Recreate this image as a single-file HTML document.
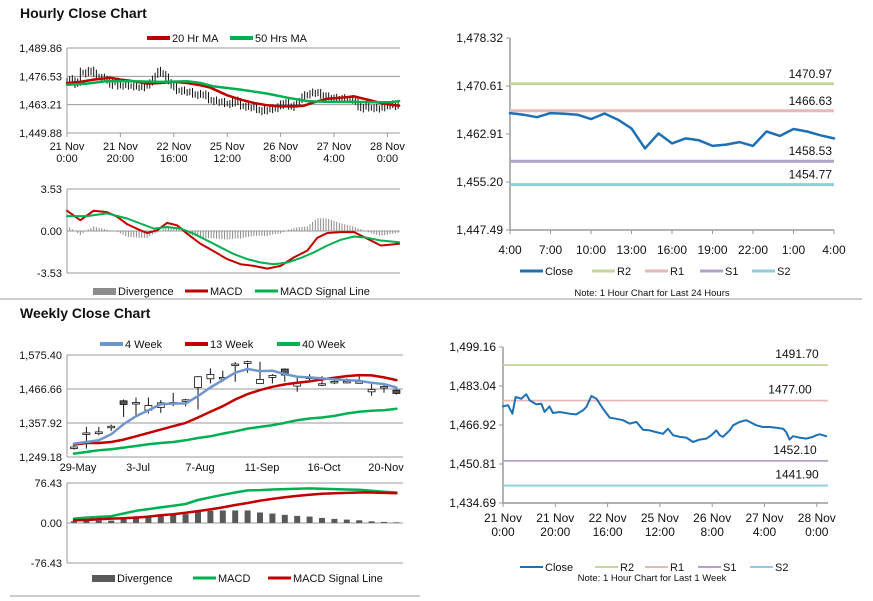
<!DOCTYPE html>
<html><head><meta charset="utf-8"><style>
html,body{margin:0;padding:0;background:#fff;}
svg{display:block;font-family:"Liberation Sans",Arial,sans-serif;}
</style></head><body>
<svg id="s" width="873" height="601" viewBox="0 0 873 601" xmlns="http://www.w3.org/2000/svg">
<text x="20" y="18" font-size="14" font-weight="bold" fill="#111">Hourly Close Chart</text>
<text x="20" y="318" font-size="14" font-weight="bold" fill="#111">Weekly Close Chart</text>
<line x1="0" y1="299" x2="862" y2="299" stroke="#999" stroke-width="1"/>
<line x1="10" y1="596" x2="420" y2="596" stroke="#999" stroke-width="1"/>
<g id="g"></g>
</svg>
<script>
// ---------- DATA ----------
const hrHours=[0,1.9,3.6,4.8,7,8.9,10.2,12.7,14.7,15.9,17.8,19.1,21.7,25.5,28,30.6,31.9,33.8,35.7,38.2,40.8,43.3,45.9,48.4,51,53.5,56.1,58.6,61.2,63.1,65,67.6,70.1,72.7,75.2,77.8,79.7,81.6,82.9,84.1,86.7,88,90.5,93,94.3,96.9,99.4,102,104.5,107.1,108.3,109.6,110.9,113.4,116,118.5,119.8,121.1,123.6];
const hrClose=[1474.6,1475.1,1471.6,1478.5,1477.8,1479.6,1477.1,1475.5,1475.7,1472.3,1474.6,1471.9,1472.3,1471.6,1471.3,1473.0,1474.4,1478.9,1477.8,1473.7,1470.0,1469.5,1468.9,1467.5,1468.2,1465.0,1464.7,1464.0,1463.3,1465.4,1462.7,1462.0,1461.7,1459.9,1460.9,1461.3,1462.7,1464.7,1462.7,1462.0,1464.7,1466.8,1468.2,1468.9,1468.2,1466.8,1466.1,1466.1,1465.8,1465.4,1464.0,1460.9,1462.3,1461.7,1461.3,1462.0,1462.7,1463.1,1462.3];
const ma20Hours=[0,5,10,16.25,20,25,30,35,40,45,50,53.75,60,65,70,75,80,85,88.75,92.5,97.5,102.5,107.5,112.5,117.5,121.25,124.4];
const ma20=[1473.4,1473.9,1475.0,1475.9,1475.0,1474.2,1473.1,1473.4,1474.0,1473.4,1472.3,1471.2,1467.6,1465.6,1464.0,1462.9,1462.4,1462.4,1462.7,1464.3,1466.0,1466.5,1467.1,1465.6,1464.0,1463.2,1462.7];
const ma50Hours=[0,7.5,15,25,35,45,50,55,65,75,82.5,90,97.5,107.5,115,121.25,124.4];
const ma50=[1472.6,1473.1,1474.3,1474.2,1473.9,1474.2,1473.4,1471.8,1470.3,1468.4,1466.5,1464.9,1464.5,1464.5,1464.3,1464.3,1464.9];
const macdHours=[0,5,10,15,18.75,22.5,27.5,30,33.75,37.5,41.25,45,50,55,60,65,70,75,80,85,90,93.75,97.5,102.5,107.5,112.5,117.5,121.25,124.4];
const macdH=[1.71,0.91,1.71,1.59,1.20,0.57,0.06,-0.17,0.06,0.68,0.48,-0.23,-1.08,-1.71,-2.36,-2.79,-2.93,-3.16,-2.93,-2.22,-1.65,-0.57,-0.17,-0.09,-0.09,-0.65,-1.22,-1.14,-1.08];
const sigHours=[0,7.5,15,22.5,27.5,32.5,37.5,42.5,47.5,52.5,57.5,62.5,67.5,72.5,77.5,82.5,87.5,92.5,97.5,102.5,107.5,112.5,117.5,124.4];
const sigH=[1.25,1.25,1.48,1.05,0.63,0.20,0.34,0.20,-0.23,-0.80,-1.37,-1.94,-2.36,-2.65,-2.79,-2.65,-2.28,-1.79,-1.22,-0.74,-0.46,-0.57,-0.80,-0.94];
const hrTickLabels=[["21 Nov","0:00"],["21 Nov","20:00"],["22 Nov","16:00"],["25 Nov","12:00"],["26 Nov","8:00"],["27 Nov","4:00"],["28 Nov","0:00"]];
const tlTicks=["1,489.86","1,476.53","1,463.21","1,449.88"];
const tlTickVals=[1489.86,1476.53,1463.21,1449.88];
const macdTicks=["3.53","0.00","-3.53"];
const macdTickVals=[3.53,0,-3.53];
// 24h chart
const dayLabels=["4:00","7:00","10:00","13:00","16:00","19:00","22:00","1:00","4:00"];
const dayClose=[1466.26,1466.0,1465.6,1466.26,1466.15,1466.0,1465.3,1466.2,1465.2,1463.8,1460.6,1463.0,1461.4,1462.2,1461.9,1461.0,1461.2,1461.6,1461.0,1463.3,1462.6,1463.7,1463.3,1462.7,1462.2];
const dayTickVals=[1478.32,1470.61,1462.91,1455.20,1447.49];
const dayTicks=["1,478.32","1,470.61","1,462.91","1,455.20","1,447.49"];
const dayLevels=[1470.97,1466.63,1458.53,1454.77];
const levelNames=["R2","R1","S1","S2"];
// weekly
const wkOpen=[1277.0,1324.0,1324.0,1343.3,1428.9,1421.4,1398.9,1407.5,1421.4,1429.9,1471.6,1499.4,1501.6,1544.4,1548.6,1484.5,1503.7,1530.5,1475.9,1502.7,1481.3,1488.7,1488.7,1487.7,1457.7,1472.7,1463.1];
const wkClose=[1281.3,1326.2,1329.4,1347.6,1417.1,1423.5,1413.9,1422.4,1423.5,1432.1,1505.9,1513.3,1503.7,1546.5,1554.0,1497.3,1510.2,1511.2,1486.6,1504.8,1483.4,1490.9,1490.9,1489.8,1465.2,1474.8,1452.4];
const wkHigh=[1283.4,1345.4,1345.4,1352.9,1433.1,1439.5,1439.5,1431.0,1454.5,1435.3,1508.0,1532.6,1525.1,1552.9,1557.2,1554.0,1514.4,1532.6,1508.0,1514.4,1508.0,1497.3,1500.5,1514.4,1482.3,1479.1,1465.2];
const wkLow=[1272.7,1275.9,1318.7,1332.6,1377.5,1382.9,1388.2,1390.3,1411.7,1411.7,1401.1,1484.5,1489.8,1489.8,1518.7,1484.5,1484.5,1489.8,1457.7,1489.8,1475.9,1482.3,1484.5,1484.5,1444.9,1454.5,1449.2];
const ma4w=[1291.9,1297.3,1302.6,1321.9,1354.0,1379.7,1398.9,1418.2,1420.3,1420.3,1443.8,1471.6,1495.2,1518.7,1530.5,1524.0,1525.1,1514.4,1505.9,1503.7,1500.5,1497.3,1495.2,1493.0,1486.6,1482.3,1471.6];
const ma13w=[1288.7,1294.1,1294.1,1297.3,1304.8,1315.5,1326.2,1336.9,1347.6,1358.3,1375.4,1393.6,1411.7,1433.1,1450.3,1463.1,1473.8,1481.3,1486.6,1490.9,1497.3,1502.7,1508.0,1511.2,1510.2,1503.7,1495.2];
const ma40w=[1259.9,1265.2,1270.6,1273.8,1279.1,1284.5,1289.8,1294.1,1297.3,1302.6,1310.1,1315.5,1324.0,1331.5,1340.1,1345.4,1350.8,1358.3,1366.8,1372.2,1375.4,1380.7,1388.2,1393.6,1396.8,1398.9,1403.2];
const wkMacd=[8.4,10.4,11.7,13.0,18.1,23.3,26.6,29.8,33.0,36.3,44.0,49.2,53.8,58.3,62.2,62.8,64.1,64.8,65.4,66.1,65.4,64.8,64.1,63.5,61.5,59.6,58.3];
const wkSignal=[5.2,5.8,7.1,8.4,9.1,10.4,12.3,14.9,16.8,19.4,22.7,25.9,29.8,34.3,38.2,42.7,46.0,49.2,51.8,53.8,55.7,57.0,57.6,58.3,58.3,57.6,57.0];
const wkLabels=["29-May","3-Jul","7-Aug","11-Sep","16-Oct","20-Nov"];
const wkTicks=["1,575.40","1,466.66","1,357.92","1,249.18"];
const wkTickVals=[1575.40,1466.66,1357.92,1249.18];
const wkMacdTicks=["76.43","0.00","-76.43"];
const wkMacdTickVals=[76.43,0,-76.43];
// week (hourly) chart
const weekTicks=["1,499.16","1,483.04","1,466.92","1,450.81","1,434.69"];
const weekTickVals=[1499.16,1483.04,1466.92,1450.81,1434.69];
const weekLevels=[1491.70,1477.00,1452.10,1441.90];

// ---------- SCALES ----------
const xH=h=>67+h*2.67;
const yTL=p=>48+(1489.86-p)*(85/39.98);
const yTM=v=>231-v*(42/3.53);
const xD=i=>510+i*13.5;
const yD=p=>38+(1478.32-p)*(192/30.83);
const xW=i=>74+i*12.4;
const yW=p=>355+(1575.40-p)*(102/326.22);
const yWM=v=>523-v*(40/76.43);
const xB=h=>503+h*2.615;
const yB=p=>347+(1499.16-p)*(156/64.47);

const NS="http://www.w3.org/2000/svg";
const G=document.getElementById('g');
function el(tag,attrs,parent){const e=document.createElementNS(NS,tag);for(const k in attrs)e.setAttribute(k,attrs[k]);(parent||G).appendChild(e);return e;}
function txt(x,y,s,anchor,size,name){const t=el('text',{x:x,y:y,'font-size':size||11,'text-anchor':anchor||'start',fill:'#111'});t.textContent=s;


return t;}
function poly(xs,ys,color,w,name){const pts=xs.map((x,i)=>x.toFixed(1)+','+ys[i].toFixed(1)).join(' ');const p=el('polyline',{points:pts,fill:'none',stroke:color,'stroke-width':w,'stroke-linejoin':'round','stroke-linecap':'round'});


return p;}
function ln(x1,y1,x2,y2,color,w,name){const l=el('line',{x1:x1,y1:y1,x2:x2,y2:y2,stroke:color,'stroke-width':w||1});


return l;}
function legendLine(x,y,color,label,w,name){ln(x,y,x+23,y,color,w||3,name+'-swatch');txt(x+25,y+4,label,'start',11,name+'-label');}
function legendBox(x,y,label,color,name){const r=el('rect',{x:x,y:y-3,width:23,height:7,fill:color});


txt(x+25,y+4,label,'start',11,name+'-label');}
function interp(hs,vs,h){if(h<=hs[0])return vs[0];for(let i=1;i<hs.length;i++){if(h<=hs[i]){const t=(h-hs[i-1])/(hs[i]-hs[i-1]);return vs[i-1]+t*(vs[i]-vs[i-1]);}}return vs[vs.length-1];}
const GRID="#9a9a9a";

// ---------- HOURLY PRICE (top-left) ----------
legendLine(147,38,'#c00000','20 Hr MA',4,'legend-20hr-ma');
legendLine(230,38,'#00b050','50 Hrs MA',4,'legend-50hr-ma');
tlTickVals.forEach((v,i)=>{ln(67,yTL(v),400,yTL(v),GRID,1,'tl-gridline');txt(62,yTL(v)+4,tlTicks[i],'end',11,'tl-y-tick');});
ln(67,48,67,133,GRID,1,'tl-y-axis');
hrTickLabels.forEach((l,i)=>{const x=xH(i*20);ln(x,133,x,137,GRID,1,'tl-x-tick');txt(x,150,l[0],'middle',11,'tl-x-label');txt(x,162,l[1],'middle',11,'tl-x-label');});
for(let h=0;h<=124;h++){const c=interp(hrHours,hrClose,h),p=interp(hrHours,hrClose,h-1);const hi=Math.max(c,p)+1.2+(h%3)*0.5,lo=Math.min(c,p)-1.2-(h%2)*0.6;
ln(xH(h),yTL(hi),xH(h),yTL(lo),'#111',1,'hourly-candle');}
poly(ma20Hours.map(xH),ma20.map(yTL),'#c00000',2.5,'ma20-line');
poly(ma50Hours.map(xH),ma50.map(yTL),'#00b050',2.5,'ma50-line');

// ---------- HOURLY MACD ----------
macdTickVals.forEach((v,i)=>{ln(67,yTM(v),400,yTM(v),GRID,1,'tm-gridline');txt(62,yTM(v)+4,macdTicks[i],'end',11,'tm-y-tick');});
ln(67,189,67,273,GRID,1,'tm-y-axis');
for(let h=0;h<=124;h++){const d=interp(macdHours,macdH,h)-interp(sigHours,sigH,h);ln(xH(h),yTM(0),xH(h),yTM(d),'#8c8c8c',1,'divergence-bar');}
poly(macdHours.map(xH),macdH.map(yTM),'#c00000',2,'macd-line');
poly(sigHours.map(xH),sigH.map(yTM),'#00b050',2,'signal-line');
legendBox(93,291,'Divergence','#8c8c8c','legend-divergence');
legendLine(185,291,'#c00000','MACD',3,'legend-macd');
legendLine(255,291,'#00b050','MACD Signal Line',3,'legend-signal');

// ---------- 24 HOUR CHART (top-right) ----------
const lvlColors=['#c3d69b','#e6b9b8','#b3a2c7','#93cddd'];
dayTickVals.forEach((v,i)=>{ln(506,yD(v),510,yD(v),GRID,1,'tr-y-tick-mark');txt(503,yD(v)+4,dayTicks[i],'end',12,'tr-y-tick');});
ln(510,38,510,230,GRID,1.5,'tr-y-axis');ln(510,230,834,230,GRID,1.5,'tr-x-axis');
dayLabels.forEach((l,i)=>{const x=xD(i*3);ln(x,230,x,234,GRID,1,'tr-x-tick');txt(x,254,l,'middle',12,'tr-x-label');});
dayLevels.forEach((v,i)=>{ln(510,yD(v),834,yD(v),lvlColors[i],3,'tr-level-'+levelNames[i]);txt(832,yD(v)-6,v.toFixed(2),'end',12,'tr-level-label');});
poly(dayClose.map((c,i)=>xD(i)),dayClose.map(yD),'#1f6fb5',2.5,'tr-close-line');
legendLine(520,271,'#1f6fb5','Close',3,'tr-legend-close');
levelNames.forEach((n,i)=>legendLine([592,645,700,752][i],271,lvlColors[i],n,3,'tr-legend-'+n));
txt(652,296,'Note: 1 Hour Chart for Last 24 Hours','middle',9.5,'tr-note');

// ---------- WEEKLY PRICE ----------
legendLine(100,344,'#6f96cc','4 Week',4,'legend-4week');
legendLine(185,344,'#c00000','13 Week',4,'legend-13week');
legendLine(277,344,'#00b050','40 Week',4,'legend-40week');
wkTickVals.forEach((v,i)=>{ln(67,yW(v),403,yW(v),GRID,1,'wk-gridline');txt(62,yW(v)+4,wkTicks[i],'end',11,'wk-y-tick');});
ln(67,355,67,457,GRID,1,'wk-y-axis');
wkLabels.forEach((l,i)=>{const x=xW(i*5)+2;txt(i===0?78:x,471,l,'middle',11,'wk-x-label');});
wkOpen.forEach((o,i)=>{const x=xW(i),c=wkClose[i];ln(x,yW(wkHigh[i]),x,yW(wkLow[i]),'#111',1,'wk-wick');
const top=yW(Math.max(o,c)),bot=yW(Math.min(o,c));const r=el('rect',{x:x-3.5,y:top,width:7,height:Math.max(bot-top,1.5),fill:c>=o?'#fff':'#555',stroke:'#111','stroke-width':0.8});

});
poly(ma40w.map((v,i)=>xW(i)),ma40w.map(yW),'#00b050',2.5,'ma40w-line');
poly(ma13w.map((v,i)=>xW(i)),ma13w.map(yW),'#c00000',2.5,'ma13w-line');
poly(ma4w.map((v,i)=>xW(i)),ma4w.map(yW),'#6f96cc',2.5,'ma4w-line');

// ---------- WEEKLY MACD ----------
wkMacdTickVals.forEach((v,i)=>{ln(67,yWM(v),403,yWM(v),GRID,1,'wm-gridline');txt(62,yWM(v)+4,wkMacdTicks[i],'end',11,'wm-y-tick');});
ln(67,483,67,563,GRID,1,'wm-y-axis');
wkMacd.forEach((m,i)=>{const d=m-wkSignal[i];const y0=yWM(0),y1=yWM(d);const r=el('rect',{x:xW(i)-3,y:Math.min(y0,y1),width:6,height:Math.abs(y1-y0),fill:'#595959'});

});
poly(wkMacd.map((v,i)=>xW(i)),wkMacd.map(yWM),'#00b050',2.5,'wk-macd-line');
poly(wkSignal.map((v,i)=>xW(i)),wkSignal.map(yWM),'#c00000',2.5,'wk-signal-line');
legendBox(92,578,'Divergence','#595959','wk-legend-divergence');
legendLine(193,578,'#00b050','MACD',3,'wk-legend-macd');
legendLine(268,578,'#c00000','MACD Signal Line',3,'wk-legend-signal');

// ---------- WEEK HOURLY CHART (bottom-right) ----------
weekTickVals.forEach((v,i)=>{ln(499,yB(v),503,yB(v),GRID,1,'br-y-tick-mark');txt(496,yB(v)+4,weekTicks[i],'end',12,'br-y-tick');});
ln(503,347,503,503,GRID,1.5,'br-y-axis');ln(503,503,828,503,GRID,1.5,'br-x-axis');
hrTickLabels.forEach((l,i)=>{const x=xB(i*20);ln(x,503,x,507,GRID,1,'br-x-tick');txt(x,522,l[0],'middle',12,'br-x-label');txt(x,536,l[1],'middle',12,'br-x-label');});
const weekLabelX=[797,790,795,797];
weekLevels.forEach((v,i)=>{ln(503,yB(v),828,yB(v),lvlColors[i],1.8,'br-level-'+levelNames[i]);txt(weekLabelX[i],yB(v)-7,v.toFixed(2),'middle',12,'br-level-label');});
poly(hrHours.map(xB),hrClose.map(yB),'#1f6fb5',2,'br-close-line');
legendLine(520,567,'#1f6fb5','Close',2,'br-legend-close');
levelNames.forEach((n,i)=>legendLine([595,645,698,750][i],567,lvlColors[i],n,2,'br-legend-'+n));
txt(652,581,'Note: 1 Hour Chart for Last 1 Week','middle',9.5,'br-note');
</script>
</body></html>
